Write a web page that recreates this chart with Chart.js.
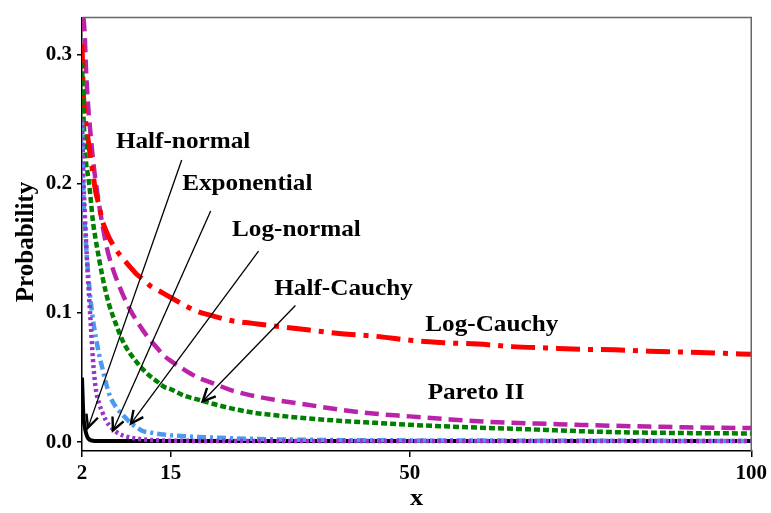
<!DOCTYPE html>
<html>
<head>
<meta charset="utf-8">
<script src="https://cdn.jsdelivr.net/npm/chart.js@4/dist/chart.umd.min.js"></script>
<style>
  html, body { margin: 0; padding: 0; background: #fff; }
</style>
</head>
<body>
<canvas id="chart" width="771" height="513"></canvas>
<script>
// values
const X_VALUES = [2, 2.2, 2.4, 2.6, 2.8, 3, 3.3, 3.6, 4, 4.5, 5, 5.5, 6, 7, 8, 9, 10, 11, 12, 13, 14, 15,
                  17, 19, 21, 24, 27, 30, 35, 40, 45, 50, 55, 60, 65, 70, 75, 80, 85, 90, 95, 100];

const HALF_NORMAL = [0.05, 0.021, 0.012, 0.007, 0.004, 0.0025, 0.0015, 0.0012, 0.001, 0.001, 0.001, 0.001, 0.001, 0.001,
                     0.001, 0.001, 0.001, 0.001, 0.001, 0.001, 0.0009, 0.0009, 0.0009, 0.0009, 0.0009, 0.0009, 0.0009, 0.0009,
                     0.0009, 0.0009, 0.0009, 0.0009, 0.0009, 0.0009, 0.0009, 0.0009, 0.0009, 0.0009, 0.0009, 0.0009, 0.0009, 0.0009];

const EXPONENTIAL = [0.25, 0.205, 0.178, 0.155, 0.134, 0.116, 0.09, 0.064, 0.042, 0.03, 0.023, 0.017, 0.013, 0.008,
                     0.0052, 0.0037, 0.0028, 0.0022, 0.0018, 0.0015, 0.0013, 0.0012, 0.0011, 0.001, 0.001, 0.001, 0.001, 0.001,
                     0.001, 0.001, 0.001, 0.001, 0.001, 0.001, 0.001, 0.001, 0.001, 0.001, 0.001, 0.001, 0.001, 0.001];

const LOG_NORMAL = [0.248, 0.195, 0.17, 0.152, 0.137, 0.124, 0.108, 0.095, 0.082, 0.068, 0.057, 0.046, 0.037, 0.027,
                    0.021, 0.0155, 0.0115, 0.0085, 0.0075, 0.0066, 0.006, 0.0053, 0.0046, 0.004, 0.0036, 0.003, 0.0026, 0.0022,
                    0.0019, 0.0016, 0.0015, 0.0014, 0.0013, 0.0013, 0.0012, 0.0012, 0.0011, 0.0011, 0.0011, 0.001, 0.001, 0.001];

const HALF_CAUCHY = [0.294, 0.255, 0.232, 0.216, 0.209, 0.202, 0.187, 0.171, 0.157, 0.142, 0.128, 0.116, 0.106, 0.091,
                     0.078, 0.069, 0.062, 0.056, 0.051, 0.047, 0.043, 0.041, 0.036, 0.033, 0.03, 0.026, 0.023, 0.021,
                     0.0185, 0.0165, 0.015, 0.0135, 0.0123, 0.0113, 0.0104, 0.0095, 0.0085, 0.0078, 0.0074, 0.0071, 0.0069, 0.0068];

const LOG_CAUCHY = [0.308, 0.27, 0.255, 0.246, 0.238, 0.23, 0.219, 0.208, 0.194, 0.183, 0.171, 0.164, 0.158, 0.149,
                    0.142, 0.136, 0.13, 0.126, 0.121, 0.118, 0.115, 0.112, 0.106, 0.101, 0.098, 0.094, 0.092, 0.09,
                    0.087, 0.084, 0.082, 0.079, 0.077, 0.076, 0.074, 0.073, 0.072, 0.0715, 0.0705, 0.0698, 0.069, 0.068];

const PARETO_II = [0.345, 0.33, 0.315, 0.287, 0.268, 0.253, 0.236, 0.219, 0.202, 0.184, 0.168, 0.154, 0.143, 0.127,
                   0.114, 0.103, 0.094, 0.086, 0.079, 0.073, 0.067, 0.063, 0.056, 0.05, 0.046, 0.04, 0.036, 0.033,
                   0.029, 0.025, 0.022, 0.02, 0.018, 0.0162, 0.015, 0.0142, 0.0134, 0.0127, 0.0121, 0.0116, 0.0112, 0.011];

const X_TICKS = [2, 15, 50, 100];
const Y_TICKS = [0, 0.1, 0.2, 0.3];

// text labels with arrows, in data units
const NOTES = [
  { text: 'Half-normal', x: 16.8, y: 0.2335, from: [16.6, 0.2184], to: [2.88, 0.0113] },
  { text: 'Exponential', x: 26.2, y: 0.201, from: [20.84, 0.179], to: [6.53, 0.0091] },
  { text: 'Log-normal', x: 33.4, y: 0.1655, from: [27.85, 0.148], to: [9.16, 0.0144] },
  { text: 'Half-Cauchy', x: 40.3, y: 0.120, from: [33.25, 0.1058], to: [19.67, 0.0317] },
  { text: 'Log-Cauchy', x: 62.0, y: 0.0922 },
  { text: 'Pareto II', x: 59.7, y: 0.0393 }
];

const FONT = '"Liberation Serif", "Times New Roman", serif';

function series(label, values, color, width, dash){
    return {
        label: label,
        data: X_VALUES.map((x, i) => ({ x: x, y: values[i] })),
        borderColor: color,
        borderWidth: width,
        borderDash: dash,
        borderCapStyle: 'butt',
        pointRadius: 0,
        fill: false,
        cubicInterpolationMode: 'monotone'
    };
}

// first dataset is drawn on top
var datasets = [
    series('Exponential', EXPONENTIAL, '#9933cc', 4.5, [3, 3]),
    series('Log-normal', LOG_NORMAL, '#4c9af0', 4.5, [9, 4, 3, 4]),
    series('Half-normal', HALF_NORMAL, '#000000', 4, []),
    series('Half-Cauchy', HALF_CAUCHY, '#008000', 4.5, [6, 3]),
    series('Log-Cauchy', LOG_CAUCHY, '#ff0000', 5, [24, 8, 5, 8]),
    series('Pareto II', PARETO_II, '#bb22aa', 4.5, [14, 7])
];

// caps centred on (cx, cy), slightly widened like the source
function stretchedText(ctx, text, cx, cy, size, stretch, rotate){
    ctx.save();
    ctx.translate(cx, cy);
    if (rotate) {
        ctx.rotate(-Math.PI / 2);
        ctx.scale(1, stretch);
    } else {
        ctx.scale(stretch, 1);
    }
    ctx.font = 'bold ' + size + 'px ' + FONT;
    ctx.fillStyle = '#000';
    ctx.textAlign = 'center';
    ctx.textBaseline = 'alphabetic';
    ctx.fillText(text, 0, size * 0.33);
    ctx.restore();
}

function arrow(ctx, x1, y1, x2, y2){
    ctx.lineWidth = 1.3;
    ctx.beginPath();
    ctx.moveTo(x1, y1);
    ctx.lineTo(x2, y2);
    ctx.stroke();
    var ang = Math.atan2(y2 - y1, x2 - x1);
    var len = 14, spread = 0.45;
    ctx.lineWidth = 2.4;
    ctx.beginPath();
    ctx.moveTo(x2 - len * Math.cos(ang - spread), y2 - len * Math.sin(ang - spread));
    ctx.lineTo(x2, y2);
    ctx.lineTo(x2 - len * Math.cos(ang + spread), y2 - len * Math.sin(ang + spread));
    ctx.stroke();
}

const notesPlugin = {
    id: 'notes',
    afterDraw(chart){
        const ctx = chart.ctx;
        const a = chart.chartArea;
        const xs = chart.scales.x, ys = chart.scales.y;
        ctx.save();
        // top and right frame
        ctx.strokeStyle = '#666';
        ctx.lineWidth = 1.5;
        ctx.beginPath();
        ctx.moveTo(a.left, a.top);
        ctx.lineTo(a.right, a.top);
        ctx.lineTo(a.right, a.bottom);
        ctx.stroke();

        ctx.strokeStyle = '#000';
        NOTES.forEach(n => {
            stretchedText(ctx, n.text, xs.getPixelForValue(n.x), ys.getPixelForValue(n.y), 24, 1.05);
            if (n.from) {
                arrow(ctx, xs.getPixelForValue(n.from[0]), ys.getPixelForValue(n.from[1]),
                           xs.getPixelForValue(n.to[0]), ys.getPixelForValue(n.to[1]));
            }
        });

        // axis titles
        stretchedText(ctx, 'Probability', 24, 242, 25, 1.05, true);
        stretchedText(ctx, 'x', (a.left + a.right) / 2, 497, 24, 1.1);
        ctx.restore();
    }
};

var tickFont = { family: FONT, size: 21, weight: 'bold' };

new Chart(document.getElementById('chart'), {
    type: 'line',
    data: { datasets: datasets },
    options: {
        responsive: false,
        animation: false,
        layout: { padding: { top: 7, right: 18, left: 0, bottom: 0 } },
        plugins: { legend: { display: false }, tooltip: { enabled: false } },
        scales: {
            x: {
                type: 'linear',
                min: 2,
                max: 100,
                afterBuildTicks: scale => { scale.ticks = X_TICKS.map(v => ({ value: v })); },
                afterFit: scale => { scale.height = 62; },
                ticks: { font: tickFont, color: '#000', padding: 4, maxRotation: 0, callback: v => String(v) },
                grid: { drawOnChartArea: false, drawTicks: true, tickLength: 6, color: '#000', lineWidth: 1.5 },
                border: { display: true, color: '#000', width: 1.5 }
            },
            y: {
                type: 'linear',
                min: -0.0068,
                max: 0.3287,
                afterBuildTicks: scale => { scale.ticks = Y_TICKS.map(v => ({ value: v })); },
                afterFit: scale => { scale.width = 82; },
                ticks: { font: tickFont, color: '#000', padding: 5, callback: v => v.toFixed(1) },
                grid: { drawOnChartArea: false, drawTicks: true, tickLength: 5, color: '#000', lineWidth: 1.5 },
                border: { display: true, color: '#000', width: 1.5 }
            }
        }
    },
    plugins: [notesPlugin]
});
</script>
</body>
</html>
